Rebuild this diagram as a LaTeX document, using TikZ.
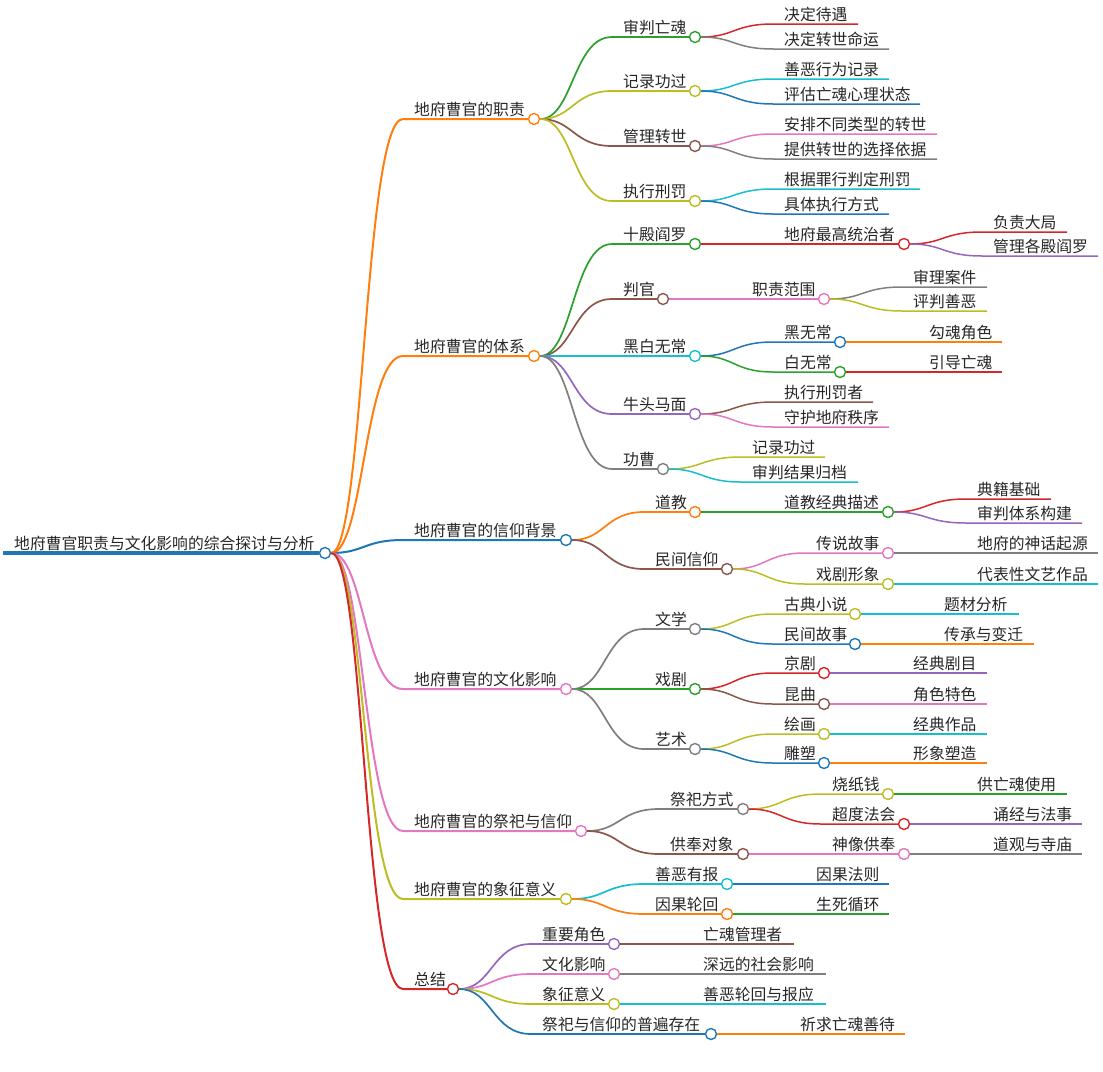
\documentclass[tikz,border=0pt]{standalone}
\usepackage{fontspec}
\newfontfamily\cjk{Noto Sans CJK SC}
\usepackage{tikz}
\definecolor{mmblue}{HTML}{1F77B4}
\definecolor{mmorange}{HTML}{FF7F0E}
\definecolor{mmgreen}{HTML}{2CA02C}
\definecolor{mmred}{HTML}{D62728}
\definecolor{mmpurple}{HTML}{9467BD}
\definecolor{mmbrown}{HTML}{8C564B}
\definecolor{mmpink}{HTML}{E377C2}
\definecolor{mmgray}{HTML}{7F7F7F}
\definecolor{mmolive}{HTML}{BCBD22}
\definecolor{mmcyan}{HTML}{17BECF}

\begin{document}
\begin{tikzpicture}[
  x=1pt, y=-1pt,
  lbl/.style={anchor=base west, inner sep=0pt, xshift=11pt, yshift=3.3pt,
              font=\cjk\fontsize{15.8}{18}\selectfont, text=black!85},
  dot/.style={circle, draw=#1, fill=white, line width=1.4pt,
              minimum size=11pt, inner sep=0pt},
  link/.style={to path={.. controls +(39,0) and +(-39,0) .. (\tikztotarget)}},
  lv0/.style={line width=3.5pt},
  lv1/.style={line width=2pt},
  lv2/.style={line width=1.7pt},
  lv3/.style={line width=1.5pt},
]
  \useasboundingbox (0,0) rectangle (1103,1071);

  \coordinate (sR) at (3,553); \node[lbl] (tR) at (sR) {地府曹官职责与文化影响的综合探讨与分析};
  \node[dot=mmblue] (cR) at (325,553) {};

  \coordinate (sA) at (403,119); \node[lbl] (tA) at (sA) {地府曹官的职责}; \node[dot=mmorange] (cA) at (534,119) {};
  \coordinate (sB) at (403,356); \node[lbl] (tB) at (sB) {地府曹官的体系}; \node[dot=mmorange] (cB) at (534,356) {};
  \coordinate (sC) at (403,540); \node[lbl] (tC) at (sC) {地府曹官的信仰背景}; \node[dot=mmblue] (cC) at (566,540) {};
  \coordinate (sD) at (403,689); \node[lbl] (tD) at (sD) {地府曹官的文化影响}; \node[dot=mmpink] (cD) at (566,689) {};
  \coordinate (sE) at (403,831); \node[lbl] (tE) at (sE) {地府曹官的祭祀与信仰}; \node[dot=mmpink] (cE) at (581,831) {};
  \coordinate (sF) at (403,899); \node[lbl] (tF) at (sF) {地府曹官的象征意义}; \node[dot=mmolive] (cF) at (566,899) {};
  \coordinate (sG) at (403,989); \node[lbl] (tG) at (sG) {总结}; \node[dot=mmred] (cG) at (453,989) {};

  \coordinate (sA1) at (612,37); \node[lbl] (tA1) at (sA1) {审判亡魂}; \node[dot=mmgreen] (cA1) at (695,37) {};
  \coordinate (sA2) at (612,91); \node[lbl] (tA2) at (sA2) {记录功过}; \node[dot=mmolive] (cA2) at (695,91) {};
  \coordinate (sA3) at (612,146); \node[lbl] (tA3) at (sA3) {管理转世}; \node[dot=mmbrown] (cA3) at (695,146) {};
  \coordinate (sA4) at (612,201); \node[lbl] (tA4) at (sA4) {执行刑罚}; \node[dot=mmolive] (cA4) at (695,201) {};
  \coordinate (sB1) at (612,244); \node[lbl] (tB1) at (sB1) {十殿阎罗}; \node[dot=mmgreen] (cB1) at (695,244) {};
  \coordinate (sB2) at (612,299); \node[lbl] (tB2) at (sB2) {判官}; \node[dot=mmbrown] (cB2) at (663,299) {};
  \coordinate (sB3) at (612,356); \node[lbl] (tB3) at (sB3) {黑白无常}; \node[dot=mmcyan] (cB3) at (695,356) {};
  \coordinate (sB4) at (612,414); \node[lbl] (tB4) at (sB4) {牛头马面}; \node[dot=mmpurple] (cB4) at (695,414) {};
  \coordinate (sB5) at (612,469); \node[lbl] (tB5) at (sB5) {功曹}; \node[dot=mmgray] (cB5) at (663,469) {};
  \coordinate (sC1) at (644,512); \node[lbl] (tC1) at (sC1) {道教}; \node[dot=mmorange] (cC1) at (695,512) {};
  \coordinate (sC2) at (644,569); \node[lbl] (tC2) at (sC2) {民间信仰}; \node[dot=mmbrown] (cC2) at (727,569) {};
  \coordinate (sD1) at (644,629); \node[lbl] (tD1) at (sD1) {文学}; \node[dot=mmgray] (cD1) at (695,629) {};
  \coordinate (sD2) at (644,689); \node[lbl] (tD2) at (sD2) {戏剧}; \node[dot=mmgreen] (cD2) at (695,689) {};
  \coordinate (sD3) at (644,749); \node[lbl] (tD3) at (sD3) {艺术}; \node[dot=mmgray] (cD3) at (695,749) {};
  \coordinate (sE1) at (659,809); \node[lbl] (tE1) at (sE1) {祭祀方式}; \node[dot=mmgray] (cE1) at (743,809) {};
  \coordinate (sE2) at (659,854); \node[lbl] (tE2) at (sE2) {供奉对象}; \node[dot=mmbrown] (cE2) at (743,854) {};
  \coordinate (sF1) at (644,884); \node[lbl] (tF1) at (sF1) {善恶有报}; \node[dot=mmcyan] (cF1) at (727,884) {};
  \coordinate (sF2) at (644,914); \node[lbl] (tF2) at (sF2) {因果轮回}; \node[dot=mmorange] (cF2) at (727,914) {};
  \coordinate (sG1) at (531,944); \node[lbl] (tG1) at (sG1) {重要角色}; \node[dot=mmpurple] (cG1) at (614,944) {};
  \coordinate (sG2) at (531,974); \node[lbl] (tG2) at (sG2) {文化影响}; \node[dot=mmpink] (cG2) at (614,974) {};
  \coordinate (sG3) at (531,1004); \node[lbl] (tG3) at (sG3) {象征意义}; \node[dot=mmolive] (cG3) at (614,1004) {};
  \coordinate (sG4) at (531,1034); \node[lbl] (tG4) at (sG4) {祭祀与信仰的普遍存在}; \node[dot=mmblue] (cG4) at (711,1034) {};

  \coordinate (sA1a) at (773,24); \node[lbl] (tA1a) at (sA1a) {决定待遇}; \coordinate (eA1a) at (858,24);
  \coordinate (sA1b) at (773,49); \node[lbl] (tA1b) at (sA1b) {决定转世命运}; \coordinate (eA1b) at (889,49);
  \coordinate (sA2a) at (773,79); \node[lbl] (tA2a) at (sA2a) {善恶行为记录}; \coordinate (eA2a) at (889,79);
  \coordinate (sA2b) at (773,104); \node[lbl] (tA2b) at (sA2b) {评估亡魂心理状态}; \coordinate (eA2b) at (920,104);
  \coordinate (sA3a) at (773,134); \node[lbl] (tA3a) at (sA3a) {安排不同类型的转世}; \coordinate (eA3a) at (937,134);
  \coordinate (sA3b) at (773,159); \node[lbl] (tA3b) at (sA3b) {提供转世的选择依据}; \coordinate (eA3b) at (937,159);
  \coordinate (sA4a) at (773,189); \node[lbl] (tA4a) at (sA4a) {根据罪行判定刑罚}; \coordinate (eA4a) at (920,189);
  \coordinate (sA4b) at (773,214); \node[lbl] (tA4b) at (sA4b) {具体执行方式}; \coordinate (eA4b) at (889,214);
  \coordinate (sB1a) at (773,244); \node[lbl] (tB1a) at (sB1a) {地府最高统治者}; \node[dot=mmred] (cB1a) at (904,244) {};
  \coordinate (sB2a) at (741,299); \node[lbl] (tB2a) at (sB2a) {职责范围}; \node[dot=mmpink] (cB2a) at (824,299) {};
  \coordinate (sB3a) at (773,342); \node[lbl] (tB3a) at (sB3a) {黑无常}; \node[dot=mmblue] (cB3a) at (840,342) {};
  \coordinate (sB3b) at (773,372); \node[lbl] (tB3b) at (sB3b) {白无常}; \node[dot=mmgreen] (cB3b) at (840,372) {};
  \coordinate (sB4a) at (773,402); \node[lbl] (tB4a) at (sB4a) {执行刑罚者}; \coordinate (eB4a) at (873,402);
  \coordinate (sB4b) at (773,427); \node[lbl] (tB4b) at (sB4b) {守护地府秩序}; \coordinate (eB4b) at (889,427);
  \coordinate (sB5a) at (741,457); \node[lbl] (tB5a) at (sB5a) {记录功过}; \coordinate (eB5a) at (825,457);
  \coordinate (sB5b) at (741,482); \node[lbl] (tB5b) at (sB5b) {审判结果归档}; \coordinate (eB5b) at (858,482);
  \coordinate (sC1a) at (773,512); \node[lbl] (tC1a) at (sC1a) {道教经典描述}; \node[dot=mmgreen] (cC1a) at (888,512) {};
  \coordinate (sC2a) at (805,553); \node[lbl] (tC2a) at (sC2a) {传说故事}; \node[dot=mmpink] (cC2a) at (888,553) {};
  \coordinate (sC2b) at (805,584); \node[lbl] (tC2b) at (sC2b) {戏剧形象}; \node[dot=mmolive] (cC2b) at (888,584) {};
  \coordinate (sD1a) at (773,614); \node[lbl] (tD1a) at (sD1a) {古典小说}; \node[dot=mmolive] (cD1a) at (855,614) {};
  \coordinate (sD1b) at (773,644); \node[lbl] (tD1b) at (sD1b) {民间故事}; \node[dot=mmblue] (cD1b) at (855,644) {};
  \coordinate (sD2a) at (773,673); \node[lbl] (tD2a) at (sD2a) {京剧}; \node[dot=mmred] (cD2a) at (824,673) {};
  \coordinate (sD2b) at (773,704); \node[lbl] (tD2b) at (sD2b) {昆曲}; \node[dot=mmbrown] (cD2b) at (824,704) {};
  \coordinate (sD3a) at (773,734); \node[lbl] (tD3a) at (sD3a) {绘画}; \node[dot=mmolive] (cD3a) at (824,734) {};
  \coordinate (sD3b) at (773,763); \node[lbl] (tD3b) at (sD3b) {雕塑}; \node[dot=mmblue] (cD3b) at (824,763) {};
  \coordinate (sE1a) at (821,794); \node[lbl] (tE1a) at (sE1a) {烧纸钱}; \node[dot=mmolive] (cE1a) at (888,794) {};
  \coordinate (sE1b) at (821,824); \node[lbl] (tE1b) at (sE1b) {超度法会}; \node[dot=mmred] (cE1b) at (904,824) {};
  \coordinate (sE2a) at (821,854); \node[lbl] (tE2a) at (sE2a) {神像供奉}; \node[dot=mmpink] (cE2a) at (904,854) {};
  \coordinate (sF1a) at (805,884); \node[lbl] (tF1a) at (sF1a) {因果法则}; \coordinate (eF1a) at (889,884);
  \coordinate (sF2a) at (805,914); \node[lbl] (tF2a) at (sF2a) {生死循环}; \coordinate (eF2a) at (889,914);
  \coordinate (sG1a) at (692,944); \node[lbl] (tG1a) at (sG1a) {亡魂管理者}; \coordinate (eG1a) at (794,944);
  \coordinate (sG2a) at (692,974); \node[lbl] (tG2a) at (sG2a) {深远的社会影响}; \coordinate (eG2a) at (826,974);
  \coordinate (sG3a) at (692,1004); \node[lbl] (tG3a) at (sG3a) {善恶轮回与报应}; \coordinate (eG3a) at (826,1004);
  \coordinate (sG4a) at (789,1034); \node[lbl] (tG4a) at (sG4a) {祈求亡魂善待}; \coordinate (eG4a) at (905,1034);

  \coordinate (sB1a1) at (982,232); \node[lbl] (tB1a1) at (sB1a1) {负责大局}; \coordinate (eB1a1) at (1067,232);
  \coordinate (sB1a2) at (982,256); \node[lbl] (tB1a2) at (sB1a2) {管理各殿阎罗}; \coordinate (eB1a2) at (1098,256);
  \coordinate (sB2a1) at (902,287); \node[lbl] (tB2a1) at (sB2a1) {审理案件}; \coordinate (eB2a1) at (987,287);
  \coordinate (sB2a2) at (902,311); \node[lbl] (tB2a2) at (sB2a2) {评判善恶}; \coordinate (eB2a2) at (987,311);
  \coordinate (sB3a1) at (918,342); \node[lbl] (tB3a1) at (sB3a1) {勾魂角色}; \coordinate (eB3a1) at (1002,342);
  \coordinate (sB3b1) at (918,372); \node[lbl] (tB3b1) at (sB3b1) {引导亡魂}; \coordinate (eB3b1) at (1002,372);
  \coordinate (sC1a1) at (966,499); \node[lbl] (tC1a1) at (sC1a1) {典籍基础}; \coordinate (eC1a1) at (1051,499);
  \coordinate (sC1a2) at (966,523); \node[lbl] (tC1a2) at (sC1a2) {审判体系构建}; \coordinate (eC1a2) at (1082,523);
  \coordinate (sC2a1) at (966,553); \node[lbl] (tC2a1) at (sC2a1) {地府的神话起源}; \coordinate (eC2a1) at (1098,553);
  \coordinate (sC2b1) at (966,584); \node[lbl] (tC2b1) at (sC2b1) {代表性文艺作品}; \coordinate (eC2b1) at (1098,584);
  \coordinate (sD1a1) at (933,614); \node[lbl] (tD1a1) at (sD1a1) {题材分析}; \coordinate (eD1a1) at (1019,614);
  \coordinate (sD1b1) at (933,644); \node[lbl] (tD1b1) at (sD1b1) {传承与变迁}; \coordinate (eD1b1) at (1034,644);
  \coordinate (sD2a1) at (902,673); \node[lbl] (tD2a1) at (sD2a1) {经典剧目}; \coordinate (eD2a1) at (987,673);
  \coordinate (sD2b1) at (902,704); \node[lbl] (tD2b1) at (sD2b1) {角色特色}; \coordinate (eD2b1) at (987,704);
  \coordinate (sD3a1) at (902,734); \node[lbl] (tD3a1) at (sD3a1) {经典作品}; \coordinate (eD3a1) at (987,734);
  \coordinate (sD3b1) at (902,763); \node[lbl] (tD3b1) at (sD3b1) {形象塑造}; \coordinate (eD3b1) at (987,763);
  \coordinate (sE1a1) at (966,794); \node[lbl] (tE1a1) at (sE1a1) {供亡魂使用}; \coordinate (eE1a1) at (1067,794);
  \coordinate (sE1b1) at (982,824); \node[lbl] (tE1b1) at (sE1b1) {诵经与法事}; \coordinate (eE1b1) at (1082,824);
  \coordinate (sE2a1) at (982,854); \node[lbl] (tE2a1) at (sE2a1) {道观与寺庙}; \coordinate (eE2a1) at (1082,854);

  \draw[lv0, mmblue] (sR) -- (cR);

  \draw[lv1, mmorange] (cR) to[link] (sA) -- (cA);
  \draw[lv1, mmorange] (cR) to[link] (sB) -- (cB);
  \draw[lv1, mmblue] (cR) to[link] (sC) -- (cC);
  \draw[lv1, mmpink] (cR) to[link] (sD) -- (cD);
  \draw[lv1, mmpink] (cR) to[link] (sE) -- (cE);
  \draw[lv1, mmolive] (cR) to[link] (sF) -- (cF);
  \draw[lv1, mmred] (cR) to[link] (sG) -- (cG);

  \draw[lv2, mmgreen] (cA) to[link] (sA1) -- (cA1);
  \draw[lv2, mmolive] (cA) to[link] (sA2) -- (cA2);
  \draw[lv2, mmbrown] (cA) to[link] (sA3) -- (cA3);
  \draw[lv2, mmolive] (cA) to[link] (sA4) -- (cA4);
  \draw[lv2, mmgreen] (cB) to[link] (sB1) -- (cB1);
  \draw[lv2, mmbrown] (cB) to[link] (sB2) -- (cB2);
  \draw[lv2, mmcyan] (cB) to[link] (sB3) -- (cB3);
  \draw[lv2, mmpurple] (cB) to[link] (sB4) -- (cB4);
  \draw[lv2, mmgray] (cB) to[link] (sB5) -- (cB5);
  \draw[lv2, mmorange] (cC) to[link] (sC1) -- (cC1);
  \draw[lv2, mmbrown] (cC) to[link] (sC2) -- (cC2);
  \draw[lv2, mmgray] (cD) to[link] (sD1) -- (cD1);
  \draw[lv2, mmgreen] (cD) to[link] (sD2) -- (cD2);
  \draw[lv2, mmgray] (cD) to[link] (sD3) -- (cD3);
  \draw[lv2, mmgray] (cE) to[link] (sE1) -- (cE1);
  \draw[lv2, mmbrown] (cE) to[link] (sE2) -- (cE2);
  \draw[lv2, mmcyan] (cF) to[link] (sF1) -- (cF1);
  \draw[lv2, mmorange] (cF) to[link] (sF2) -- (cF2);
  \draw[lv2, mmpurple] (cG) to[link] (sG1) -- (cG1);
  \draw[lv2, mmpink] (cG) to[link] (sG2) -- (cG2);
  \draw[lv2, mmolive] (cG) to[link] (sG3) -- (cG3);
  \draw[lv2, mmblue] (cG) to[link] (sG4) -- (cG4);

  \draw[lv3, mmred] (cA1) to[link] (sA1a) -- (eA1a);
  \draw[lv3, mmgray] (cA1) to[link] (sA1b) -- (eA1b);
  \draw[lv3, mmcyan] (cA2) to[link] (sA2a) -- (eA2a);
  \draw[lv3, mmblue] (cA2) to[link] (sA2b) -- (eA2b);
  \draw[lv3, mmpink] (cA3) to[link] (sA3a) -- (eA3a);
  \draw[lv3, mmgray] (cA3) to[link] (sA3b) -- (eA3b);
  \draw[lv3, mmcyan] (cA4) to[link] (sA4a) -- (eA4a);
  \draw[lv3, mmblue] (cA4) to[link] (sA4b) -- (eA4b);
  \draw[lv3, mmred] (cB1) to[link] (sB1a) -- (cB1a);
  \draw[lv3, mmpink] (cB2) to[link] (sB2a) -- (cB2a);
  \draw[lv3, mmblue] (cB3) to[link] (sB3a) -- (cB3a);
  \draw[lv3, mmgreen] (cB3) to[link] (sB3b) -- (cB3b);
  \draw[lv3, mmbrown] (cB4) to[link] (sB4a) -- (eB4a);
  \draw[lv3, mmpink] (cB4) to[link] (sB4b) -- (eB4b);
  \draw[lv3, mmolive] (cB5) to[link] (sB5a) -- (eB5a);
  \draw[lv3, mmcyan] (cB5) to[link] (sB5b) -- (eB5b);
  \draw[lv3, mmgreen] (cC1) to[link] (sC1a) -- (cC1a);
  \draw[lv3, mmpink] (cC2) to[link] (sC2a) -- (cC2a);
  \draw[lv3, mmolive] (cC2) to[link] (sC2b) -- (cC2b);
  \draw[lv3, mmolive] (cD1) to[link] (sD1a) -- (cD1a);
  \draw[lv3, mmblue] (cD1) to[link] (sD1b) -- (cD1b);
  \draw[lv3, mmred] (cD2) to[link] (sD2a) -- (cD2a);
  \draw[lv3, mmbrown] (cD2) to[link] (sD2b) -- (cD2b);
  \draw[lv3, mmolive] (cD3) to[link] (sD3a) -- (cD3a);
  \draw[lv3, mmblue] (cD3) to[link] (sD3b) -- (cD3b);
  \draw[lv3, mmolive] (cE1) to[link] (sE1a) -- (cE1a);
  \draw[lv3, mmred] (cE1) to[link] (sE1b) -- (cE1b);
  \draw[lv3, mmpink] (cE2) to[link] (sE2a) -- (cE2a);
  \draw[lv3, mmblue] (cF1) to[link] (sF1a) -- (eF1a);
  \draw[lv3, mmgreen] (cF2) to[link] (sF2a) -- (eF2a);
  \draw[lv3, mmbrown] (cG1) to[link] (sG1a) -- (eG1a);
  \draw[lv3, mmgray] (cG2) to[link] (sG2a) -- (eG2a);
  \draw[lv3, mmcyan] (cG3) to[link] (sG3a) -- (eG3a);
  \draw[lv3, mmorange] (cG4) to[link] (sG4a) -- (eG4a);

  \draw[lv3, mmred] (cB1a) to[link] (sB1a1) -- (eB1a1);
  \draw[lv3, mmpurple] (cB1a) to[link] (sB1a2) -- (eB1a2);
  \draw[lv3, mmgray] (cB2a) to[link] (sB2a1) -- (eB2a1);
  \draw[lv3, mmolive] (cB2a) to[link] (sB2a2) -- (eB2a2);
  \draw[lv3, mmorange] (cB3a) to[link] (sB3a1) -- (eB3a1);
  \draw[lv3, mmred] (cB3b) to[link] (sB3b1) -- (eB3b1);
  \draw[lv3, mmred] (cC1a) to[link] (sC1a1) -- (eC1a1);
  \draw[lv3, mmpurple] (cC1a) to[link] (sC1a2) -- (eC1a2);
  \draw[lv3, mmgray] (cC2a) to[link] (sC2a1) -- (eC2a1);
  \draw[lv3, mmcyan] (cC2b) to[link] (sC2b1) -- (eC2b1);
  \draw[lv3, mmcyan] (cD1a) to[link] (sD1a1) -- (eD1a1);
  \draw[lv3, mmorange] (cD1b) to[link] (sD1b1) -- (eD1b1);
  \draw[lv3, mmpurple] (cD2a) to[link] (sD2a1) -- (eD2a1);
  \draw[lv3, mmpink] (cD2b) to[link] (sD2b1) -- (eD2b1);
  \draw[lv3, mmcyan] (cD3a) to[link] (sD3a1) -- (eD3a1);
  \draw[lv3, mmorange] (cD3b) to[link] (sD3b1) -- (eD3b1);
  \draw[lv3, mmgreen] (cE1a) to[link] (sE1a1) -- (eE1a1);
  \draw[lv3, mmpurple] (cE1b) to[link] (sE1b1) -- (eE1b1);
  \draw[lv3, mmgray] (cE2a) to[link] (sE2a1) -- (eE2a1);
\end{tikzpicture}
\end{document}
